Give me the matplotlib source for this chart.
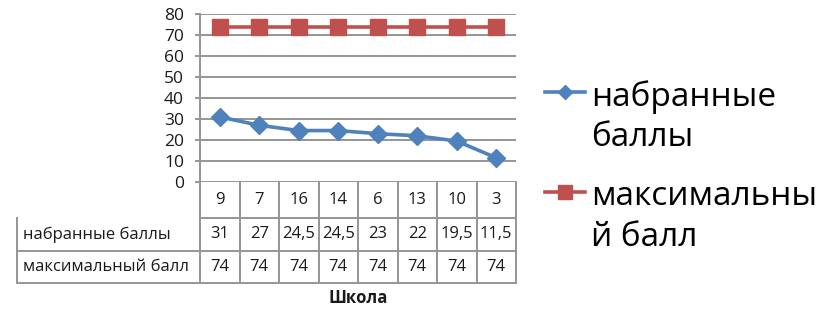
import matplotlib
matplotlib.use("Agg")
import matplotlib.pyplot as plt
import matplotlib.transforms as mtransforms
from matplotlib.lines import Line2D

plt.rcParams['font.family'] = ['Open Sans', 'DejaVu Sans']

schools = ['9', '7', '16', '14', '6', '13', '10', '3']
scored = [31, 27, 24.5, 24.5, 23, 22, 19.5, 11.5]
max_score = [74, 74, 74, 74, 74, 74, 74, 74]
series_names = ['набранные баллы', 'максимальный балл']
legend_labels = ['набранные\nбаллы', 'максимальны\nй балл']
x_title = 'Школа'

blue = '#4F81BD'
red = '#C0504D'
grid = '#959595'

W, H = 818, 311
fig = plt.figure(figsize=(W / 100, H / 100), dpi=100)
ax = fig.add_axes([200 / W, (H - 182) / H, 316 / W, 168 / H])

x = list(range(len(schools)))
ax.plot(x, scored, color=blue, lw=2.6, marker='D', ms=9, mec=blue, mfc=blue)
ax.plot(x, max_score, color=red, lw=2.6, marker='s', ms=11.5, mec=red, mfc=red)

ax.set_xlim(-0.5, len(schools) - 0.5)
ax.set_ylim(0, 80)
ax.set_yticks(range(0, 81, 10))
ax.set_xticks([])
ax.yaxis.grid(True, color=grid, lw=1.4)
ax.set_axisbelow(True)
for s in ['top', 'right', 'bottom']:
    ax.spines[s].set_visible(False)
ax.spines['left'].set_color(grid)
ax.spines['left'].set_linewidth(1.4)
ax.tick_params(axis='y', length=3.5, width=1.4, color=grid, labelsize=12.5,
               labelcolor='#1a1a1a', pad=8)

# data table below the plot
tr = mtransforms.blended_transform_factory(ax.transData, ax.transAxes)
rows = [0, -36 / 168, -69 / 168, -101 / 168]
left = -0.5 - (200 - 16.7) / 39.5
right = len(schools) - 0.5
kw = dict(color=grid, lw=1.4, transform=tr, clip_on=False)
ax.plot([-0.5, right], [rows[1], rows[1]], **kw)
ax.plot([left, right], [rows[2], rows[2]], **kw)
ax.plot([left, right], [rows[3], rows[3]], **kw)
ax.plot([left, left], [rows[1], rows[3]], **kw)
for b in range(len(schools) + 1):
    ax.plot([b - 0.5, b - 0.5], [rows[0], rows[3]], **kw)

tkw = dict(transform=tr, fontsize=12, color='#1a1a1a', va='center', clip_on=False)
for i, s in enumerate(schools):
    ax.text(i, (rows[0] + rows[1]) / 2, s, ha='center', **tkw)
for r, (name, vals) in enumerate(zip(series_names, [scored, max_score])):
    yc = (rows[r + 1] + rows[r + 2]) / 2
    ax.text(left + 0.15, yc, name, ha='left', **tkw)
    for i, v in enumerate(vals):
        ax.text(i, yc, f'{v:g}'.replace('.', ','), ha='center', **tkw)

fig.text(358 / W, 1 - 298 / H, x_title, ha='center', va='center',
         fontsize=12, fontweight='bold', color='#1a1a1a')

# legend
styles = [(blue, 'D', 7, 92), (red, 's', 10, 192)]
for (c, m, ms, yp), lab in zip(styles, legend_labels):
    yf = 1 - yp / H
    fig.add_artist(Line2D([545 / W, 585 / W], [yf, yf], color=c, lw=2.6,
                          transform=fig.transFigure))
    fig.add_artist(Line2D([565 / W], [yf], color=c, marker=m, ms=ms, lw=0,
                          transform=fig.transFigure))
    fig.text(591 / W, 1 - (yp - 12) / H, lab, ha='left', va='top', fontsize=24,
             color='#000000', linespacing=1.3)

fig.savefig('out.png', dpi=100)
